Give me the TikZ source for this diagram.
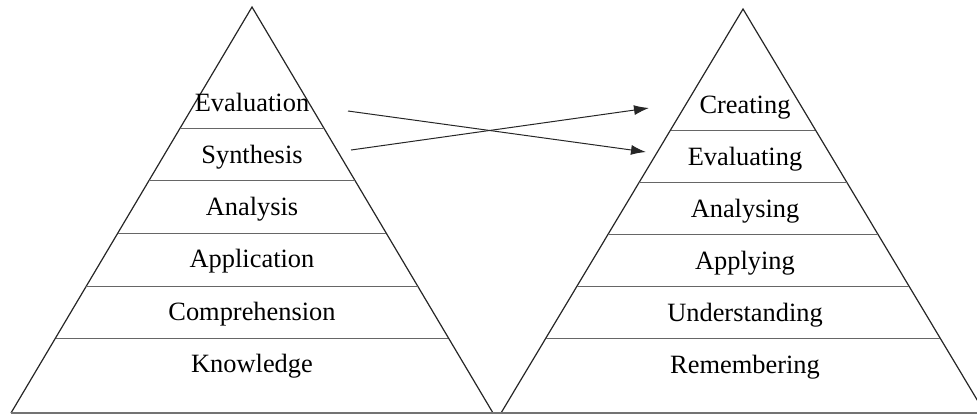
\documentclass[tikz,border=0pt]{standalone}
\usepackage{fontspec}
\setmainfont{Liberation Serif}
\usetikzlibrary{calc,arrows.meta}
\begin{document}
\begin{tikzpicture}[x=0.5pt,y=-0.5pt,
  side/.style={line width=0.6pt,black!85},
  band/.style={line width=0.45pt,black!60},
  lbl/.style={anchor=base,font=\fontsize{13.2pt}{15pt}\selectfont,inner sep=0pt},
  arr/.style={line width=0.5pt,black!85,-{Latex[length=7.5pt,width=5pt]}}]
\useasboundingbox (0,0) rectangle (977,414);
\begin{scope}
\clip (0,0) rectangle (977,414);
% left pyramid
\coordinate (LA) at (252,7);
\coordinate (LBL) at (11,413);
\coordinate (LBR) at (493,413);
\draw[side] (LBL) -- (LA) -- (LBR);
\foreach \yy in {128,180,233,286,338}{
  \pgfmathsetmacro{\t}{(\yy-7)/406}
  \draw[band] ($(LA)!\t!(LBL)$) -- ($(LA)!\t!(LBR)$);
}
% right pyramid
\coordinate (RA) at (743,9);
\coordinate (RBL) at (501,413);
\coordinate (RBR) at (985,413);
\draw[side] (RBL) -- (RA) -- (RBR);
\foreach \yy in {130,182,234,286,338}{
  \pgfmathsetmacro{\t}{(\yy-9)/404}
  \draw[band] ($(RA)!\t!(RBL)$) -- ($(RA)!\t!(RBR)$);
}
% base line
\draw[line width=0.8pt,black!55] (LBL) -- (RBR);
\end{scope}
% labels left
\node[lbl] (eval)  at (252,111) {Evaluation};
\node[lbl] (synth) at (252,163) {Synthesis};
\node[lbl] (anal)  at (252,215) {Analysis};
\node[lbl] (appl)  at (252,267) {Application};
\node[lbl] (comp)  at (252,320) {Comprehension};
\node[lbl] (know)  at (252,372) {Knowledge};
% labels right
\node[lbl] (crea)  at (745,113) {Creating};
\node[lbl] (evlg)  at (745,165) {Evaluating};
\node[lbl] (anlg)  at (745,217) {Analysing};
\node[lbl] (aplg)  at (745,269) {Applying};
\node[lbl] (undr)  at (745,321) {Understanding};
\node[lbl] (remb)  at (745,373) {Remembering};
% arrows
\coordinate (s1) at (348,111);
\coordinate (e1) at (646,152);
\coordinate (s2) at (351,150);
\coordinate (e2) at (649,108);
\draw[arr] (s1) -- (e1);
\draw[arr] (s2) -- (e2);
\end{tikzpicture}
\end{document}
